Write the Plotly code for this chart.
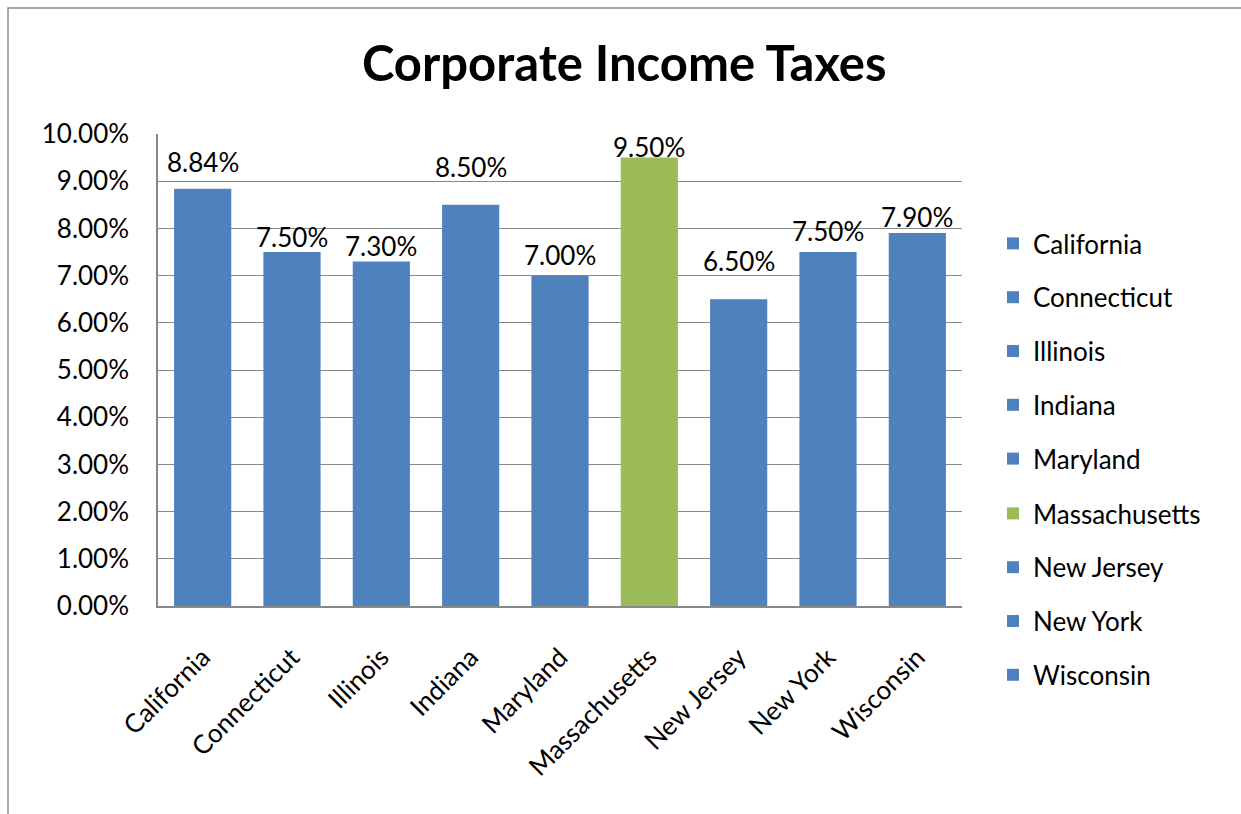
import plotly.graph_objects as go

states = ["California", "Connecticut", "Illinois", "Indiana", "Maryland",
          "Massachusetts", "New Jersey", "New York", "Wisconsin"]
rates = [0.0884, 0.075, 0.073, 0.085, 0.07, 0.095, 0.065, 0.075, 0.079]
colors = ["#4F81BD", "#4F81BD", "#4F81BD", "#4F81BD", "#4F81BD",
          "#9BBB59", "#4F81BD", "#4F81BD", "#4F81BD"]
y_ticks = [0.0, 0.01, 0.02, 0.03, 0.04, 0.05, 0.06, 0.07, 0.08, 0.09, 0.10]

# label placement (pixels above the bar top), as in the original
label_lift = [27, 15, 15, 38, 21, 11, 38, 21, 16]
# legend split into two stacked blocks so all entries show without scrolling
legend_of = ["legend"] * 5 + ["legend2"] * 4

FONT = "Lato"
W, H = 1241, 814

fig = go.Figure()
for s, v, c, lg in zip(states, rates, colors, legend_of):
    fig.add_trace(go.Bar(
        x=[s], y=[v], name=s, legendgroup=s, legend=lg,
        marker=dict(color=c, line=dict(width=0)),
        hoverinfo="x+y",
    ))

annotations = []
for s, v, lift in zip(states, rates, label_lift):
    annotations.append(dict(
        x=s, y=v, xref="x", yref="y", text=f"{v*100:.2f}%",
        showarrow=False, yanchor="middle", yshift=lift,
        font=dict(family=FONT, size=26, color="black"),
    ))

legend_common = dict(xref="container", yref="container", xanchor="left",
                     yanchor="top", font=dict(family=FONT, size=26, color="black"),
                     tracegroupgap=17, itemwidth=30, bgcolor="rgba(0,0,0,0)")

fig.update_layout(
    width=W, height=H,
    margin=dict(l=158, r=279, t=134, b=208),
    paper_bgcolor="white", plot_bgcolor="white",
    barmode="overlay", bargap=0.36,
    title=dict(text="<b>Corporate Income Taxes</b>", x=0.503, xanchor="center",
               y=1 - 64 / H, yanchor="middle",
               font=dict(family=FONT, size=49, color="black")),
    showlegend=True,
    legend=dict(x=993 / W, y=1 - 220 / H, **legend_common),
    legend2=dict(x=993 / W, y=1 - 490 / H, **legend_common),
    font=dict(family=FONT, color="black"),
    annotations=annotations,
    shapes=[dict(type="rect", xref="paper", yref="paper",
                 x0=(8 - 158) / 804, x1=1.6, y0=-0.6, y1=(606 - 8) / 472,
                 line=dict(color="#8c8c8c", width=1.5), layer="below")],
)
fig.update_xaxes(
    tickangle=-45, tickfont=dict(family=FONT, size=26, color="black"),
    showline=True, linecolor="#888888", linewidth=1.5,
    showgrid=False, ticks="", ticklabelstandoff=24,
)
fig.update_yaxes(
    range=[0, 0.10], tickvals=y_ticks, tickformat=".2%",
    tickfont=dict(family=FONT, size=26, color="black"),
    showgrid=True, gridcolor="#888888", gridwidth=1,
    showline=True, linecolor="#888888", linewidth=1.5,
    ticks="", ticklabelstandoff=22, zeroline=False,
)

fig.write_html("out.html")
